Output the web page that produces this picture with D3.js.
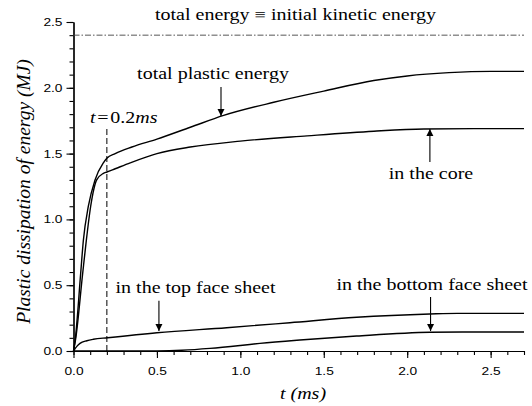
<!DOCTYPE html>
<html>
<head>
<meta charset="utf-8">
<script src="https://cdn.jsdelivr.net/npm/d3@7"></script>
<style>
body { margin: 0; background: #fff; }
svg { display: block; }
</style>
</head>
<body>
<div id="chart"></div>
<script>
// data (t in ms, energy in MJ)
var tTotal   = [0, 0.01, 0.043, 0.059, 0.089, 0.129, 0.179, 0.2, 0.25, 0.35, 0.5, 0.7, 0.9, 1.2, 1.5, 1.8, 2.0, 2.25, 2.5, 2.7];
var eTotal   = [0, 0.084, 0.59, 0.84, 1.10, 1.30, 1.43, 1.465, 1.50, 1.55, 1.61, 1.70, 1.79, 1.89, 1.975, 2.055, 2.09, 2.115, 2.125, 2.125];

var tCore    = [0, 0.012, 0.055, 0.075, 0.103, 0.139, 0.179, 0.2, 0.25, 0.34, 0.5, 0.7, 1.0, 1.4, 1.8, 2.1, 2.4, 2.7];
var eCore    = [0, 0.084, 0.59, 0.82, 1.10, 1.30, 1.35, 1.36, 1.385, 1.43, 1.50, 1.55, 1.595, 1.635, 1.67, 1.687, 1.69, 1.69];

var tTop     = [0, 0.02, 0.039, 0.08, 0.119, 0.205, 0.5, 0.918, 1.297, 1.697, 2.136, 2.3, 2.7];
var eTop     = [0, 0.035, 0.058, 0.078, 0.089, 0.101, 0.139, 0.177, 0.215, 0.256, 0.281, 0.286, 0.286];

var tBottom  = [0, 0.3, 0.5, 0.65, 0.818, 1.0, 1.117, 1.357, 1.697, 2.136, 2.33, 2.7];
var eBottom  = [0, 0, 0.001, 0.006, 0.02, 0.042, 0.058, 0.084, 0.114, 0.142, 0.144, 0.144];

var totalEnergy = 2.4;
var markTime = 0.2;

var xTicks = [0, 0.5, 1.0, 1.5, 2.0, 2.5];
var yTicks = [0, 0.5, 1.0, 1.5, 2.0, 2.5];

// arrows: label, t, tail value, tip value
var arrowLabels = ["total plastic energy", "in the core", "in the top face sheet", "in the bottom face sheet"];
var arrowT      = [0.884, 2.136, 0.512, 2.14];
var arrowFrom   = [2.006, 1.436, 0.382, 0.41];
var arrowTo     = [1.786, 1.687, 0.152, 0.152];

var w = 532, h = 406;
var x0 = 73.5, x1 = 524, yBase = 351, yTop = 22;
var stretch = 1.25; // the original figure is a bit wider than tall

var SERIF = "'Liberation Serif'";
var SANS = "'Liberation Sans'";

var xScale = d3.scaleLinear().domain([0, 2.7]).range([x0, x1]);
var yScale = d3.scaleLinear().domain([0, 2.5]).range([yBase, yTop]);

var svg = d3.select("#chart").append("svg")
	.attr("width", w)
	.attr("height", h);

// minor ticks every 0.1
var xMinor = d3.range(0, 28).map(function (i) { return i / 10; });
var yMinor = d3.range(0, 26).map(function (i) { return i / 10; });

var xAxisMinor = d3.axisBottom(xScale).tickValues(xMinor).tickSize(4).tickSizeOuter(0).tickFormat("");
var xAxis = d3.axisBottom(xScale).tickValues(xTicks).tickSize(7).tickSizeOuter(0).tickPadding(9).tickFormat(d3.format(".1f"));
var yAxisMinor = d3.axisLeft(yScale).tickValues(yMinor).tickSize(4).tickSizeOuter(0).tickFormat("");
var yAxis = d3.axisLeft(yScale).tickValues(yTicks).tickSize(7).tickSizeOuter(0).tickPadding(4).tickFormat(d3.format(".1f"));

// move x/y of a text into a transform so it can be widened
function widen() {
	var t = d3.select(this);
	var x = +t.attr("x") || 0, y = +t.attr("y") || 0;
	t.attr("x", 0).attr("y", 0)
		.attr("transform", "translate(" + x + "," + y + ") scale(" + stretch + ",1)");
}

function styleAxis(g) {
	g.select(".domain").attr("stroke", "#000").attr("stroke-width", 1.2);
	g.selectAll(".tick line").attr("stroke", "#000").attr("stroke-width", 1.1);
	g.selectAll(".tick text")
		.style("font-family", SANS)
		.style("font-size", "11px")
		.attr("fill", "#000")
		.each(widen);
}

svg.append("g").attr("transform", "translate(0," + yBase + ")").call(xAxisMinor).call(styleAxis);
svg.append("g").attr("transform", "translate(0," + yBase + ")").call(xAxis).call(styleAxis);
svg.append("g").attr("transform", "translate(" + x0 + ",0)").call(yAxisMinor).call(styleAxis);
svg.append("g").attr("transform", "translate(" + x0 + ",0)").call(yAxis).call(styleAxis);

// total energy line (dash-dot)
svg.append("line")
	.attr("x1", xScale(0)).attr("x2", xScale(2.7))
	.attr("y1", yScale(totalEnergy)).attr("y2", yScale(totalEnergy))
	.attr("stroke", "#444")
	.attr("stroke-width", 0.9)
	.attr("stroke-dasharray", "6,2,1.5,2");

// t = 0.2 ms marker
svg.append("line")
	.attr("x1", xScale(markTime)).attr("x2", xScale(markTime))
	.attr("y1", yScale(0)).attr("y2", yScale(1.70))
	.attr("stroke", "#000")
	.attr("stroke-width", 1)
	.attr("stroke-dasharray", "6,3");

// curves
var line = d3.line()
	.x(function (d) { return xScale(d[0]); })
	.y(function (d) { return yScale(d[1]); })
	.curve(d3.curveMonotoneX);

var series = [d3.zip(tTotal, eTotal), d3.zip(tCore, eCore), d3.zip(tTop, eTop), d3.zip(tBottom, eBottom)];

svg.selectAll("path.curve")
	.data(series)
	.enter()
	.append("path")
	.attr("class", "curve")
	.attr("d", line)
	.attr("fill", "none")
	.attr("stroke", "#000")
	.attr("stroke-width", 1.4);

// arrows
svg.append("defs").append("marker")
	.attr("id", "head")
	.attr("viewBox", "0 0 10 10")
	.attr("refX", 10).attr("refY", 5)
	.attr("markerWidth", 7).attr("markerHeight", 9)
	.attr("markerUnits", "userSpaceOnUse")
	.attr("orient", "auto")
	.append("path")
	.attr("d", "M0,0 L10,5 L0,10 Z")
	.attr("fill", "#000");

svg.selectAll("line.arrow")
	.data(arrowT)
	.enter()
	.append("line")
	.attr("class", "arrow")
	.attr("x1", function (d) { return xScale(d); })
	.attr("x2", function (d) { return xScale(d); })
	.attr("y1", function (d, i) { return yScale(arrowFrom[i]); })
	.attr("y2", function (d, i) { return yScale(arrowTo[i]); })
	.attr("stroke", "#000")
	.attr("stroke-width", 1.1)
	.attr("marker-end", "url(#head)");

// labels
function label(txt, x, y, anchor) {
	return svg.append("text")
		.attr("x", x).attr("y", y)
		.attr("text-anchor", anchor || "middle")
		.style("font-family", SERIF)
		.style("font-size", "16px")
		.attr("fill", "#000")
		.text(txt)
		.each(widen);
}

label("total energy \u2261 initial kinetic energy", 295.5, 20);
label(arrowLabels[0], 213, 78.5);
label(arrowLabels[1], 431, 179);
label(arrowLabels[2], 195.5, 293);
label(arrowLabels[3], 432, 290);

var tm = label("", 90, 123, "start");
tm.append("tspan").style("font-style", "italic").text("t");
tm.append("tspan").text("\u200A=\u200A0.2");
tm.append("tspan").style("font-style", "italic").text("ms");

// axis titles
label("t (ms)", 303, 398.5).style("font-style", "italic");

svg.append("text")
	.attr("transform", "translate(30,191.5) rotate(-90)")
	.attr("text-anchor", "middle")
	.style("font-family", SERIF)
	.style("font-style", "italic")
	.style("font-size", "19.5px")
	.text("Plastic dissipation of energy (MJ)");
</script>
</body>
</html>
